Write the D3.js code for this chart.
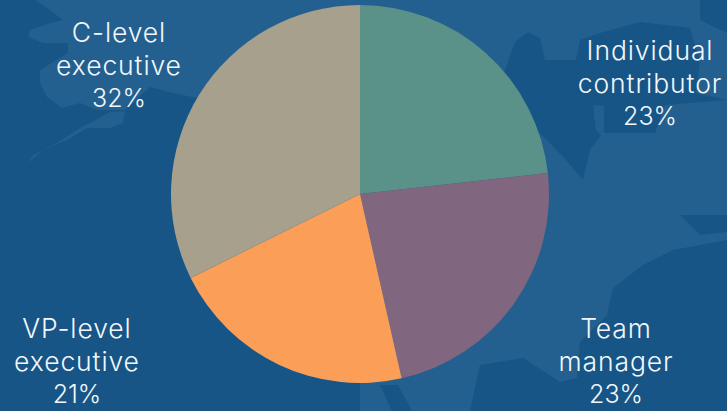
<!DOCTYPE html>
<html>
<head>
<meta charset="utf-8">
<script src="https://cdn.jsdelivr.net/npm/d3@7/dist/d3.min.js"></script>
<style>
  html, body { margin: 0; padding: 0; background: #175587; overflow: hidden; }
  svg { display: block; }
  text { font-family: "Inter", "Lato", sans-serif; font-weight: 300; fill: #f4f7fa; text-anchor: middle; letter-spacing: 0.9px; }
  tspan.share { letter-spacing: 0; font-size: 25px; }
</style>
</head>
<body>
<svg id="chart" width="727" height="411"></svg>
<script>
// Respondent seniority shares
const categories = ["Individual contributor", "Team manager", "VP-level executive", "C-level executive"];
const shares = [23, 23, 21, 32];
const sliceColors = ["#5a9189", "#80677f", "#fb9f58", "#a7a08d"];

// Wrapped label lines and their centres
const labelLines = [["Individual", "contributor"], ["Team", "manager"], ["VP-level", "executive"], ["C-level", "executive"]];
const labelCentres = [[650, 60], [616, 338], [77, 338], [119, 42]];
const labelLeading = 32.5;

// Faint world map behind the pie: land shapes, then seas cut back into them
const landOutlines = [
  [[35,0],[50,10],[63,20],[50,23],[30,30],[28,37],[43,43],[68,43],[68,53],[40,70],[40,83],[47,97],[62,108],[80,103],[97,110],[125,110],[150,87],[173,93],[197,98],[360,98],[360,0]],
  [[125,111],[123,123],[110,128],[87,128],[67,140],[43,150],[28,163],[33,155],[57,143],[80,128],[90,123],[110,112]],
  [[360,0],[727,0],[727,411],[360,411]]
];
const seaOutlines = [
  [[505,70],[515,42],[528,32],[540,38],[545,60],[576,60],[580,40],[600,33],[640,22],[690,28],[700,60],[696,93],[727,100],[665,105],[655,133],[603,133],[590,150],[583,180],[566,160],[540,133],[480,120]],
  [[700,0],[727,0],[727,33],[700,20]],
  [[680,215],[727,215],[727,232],[700,235]],
  [[727,240],[673,250],[643,265],[613,288],[607,315],[580,342],[577,378],[560,382],[523,358],[480,365],[470,411],[727,411]],
  [[380,385],[398,385],[412,411],[392,411]]
];
const islandOutlines = [
  [[593,105],[604,106],[604,138],[596,130]]
];

const width = 727, height = 411;
const cx = 360, cy = 194, radius = 189;
const seaColor = "#175587", landColor = "#23608f";
const svg = d3.select("#chart");

svg.append("rect").attr("width", width).attr("height", height).attr("fill", seaColor);

const outline = d3.line().curve(d3.curveLinearClosed);
const drawShapes = (shapes, fill) => svg.append("g").selectAll("path").data(shapes).join("path")
  .attr("d", d => outline(d))
  .attr("fill", fill);
drawShapes(landOutlines, landColor);
drawShapes(seaOutlines, seaColor);
drawShapes(islandOutlines, landColor);

const pie = d3.pie().sort(null).value(d => d);
const arc = d3.arc().innerRadius(0).outerRadius(radius);

svg.append("g").attr("transform", `translate(${cx},${cy})`)
  .selectAll("path").data(pie(shares)).join("path")
  .attr("d", arc)
  .attr("fill", (d, i) => sliceColors[i]);

const labels = svg.append("g").selectAll("text").data(categories).join("text")
  .attr("font-size", 26.5)
  .attr("aria-label", d => d);

labels.each(function(d, i) {
  const [x, y] = labelCentres[i];
  const rows = [...labelLines[i], `${shares[i]}%`];
  d3.select(this).selectAll("tspan").data(rows).join("tspan")
    .attr("class", (r, j) => j === rows.length - 1 ? "share" : null)
    .attr("x", x)
    .attr("y", (r, j) => y + j * labelLeading)
    .text(r => r);
});
</script>
</body>
</html>
